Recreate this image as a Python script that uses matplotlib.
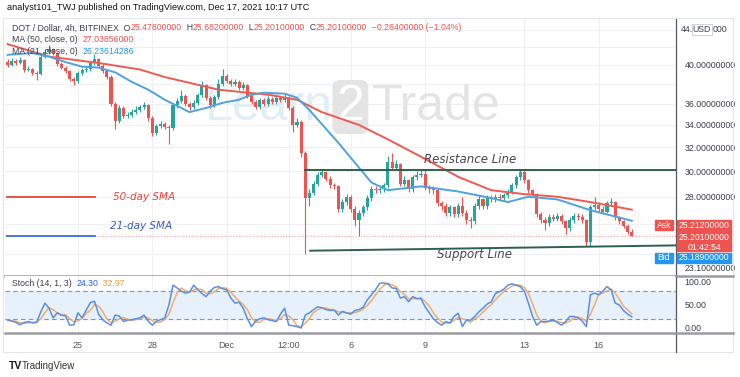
import numpy as np
import pandas as pd
import matplotlib
matplotlib.use("Agg")
import matplotlib.pyplot as plt
from matplotlib.lines import Line2D
from matplotlib.patches import Rectangle
from matplotlib.offsetbox import TextArea, HPacker, AnnotationBbox

# --------- Datos (velas de 4h, DOT/USD Bitfinex, 22 nov 04:00 -> 17 dic 08:00) ---------

first_open = 40.3
closes = [40.0, 40.4, 40.2, 40.5, 39.4, 39.6, 39.1, 39.0, 40.9, 41.4,
          41.8, 41.3, 40.1, 39.7, 39.3, 38.5, 38.3, 39.1, 39.4, 39.5,
          40.2, 40.6, 39.9, 39.3, 38.7, 36.0, 34.4, 35.6, 34.8, 34.9,
          35.2, 35.4, 35.7, 35.9, 34.6, 33.3, 33.9, 34.1, 33.8, 33.7,
          35.9, 36.3, 36.8, 36.0, 35.7, 36.1, 36.9, 37.9, 36.6, 35.9,
          36.7, 38.0, 38.8, 38.3, 38.0, 38.2, 37.6, 37.9, 36.8, 36.2,
          35.7, 36.4, 36.0, 36.5, 36.2, 36.6, 36.4, 36.7, 35.6, 34.0,
          34.3, 31.5, 27.9, 28.3, 29.0, 29.7, 29.9, 29.4, 28.9, 28.8,
          27.1, 27.6, 28.0, 27.1, 26.3, 26.8, 27.2, 27.9, 28.6, 28.5,
          28.6, 28.9, 30.8, 30.3, 30.6, 29.0, 29.3, 28.6, 29.5, 29.7,
          29.8, 28.7, 28.6, 28.5, 27.5, 27.3, 26.8, 27.2, 26.7, 27.3,
          26.8, 26.3, 26.2, 27.3, 27.8, 27.3, 27.9, 27.8, 28.0, 27.9,
          28.1, 28.4, 28.9, 29.5, 29.9, 29.3, 28.5, 28.2, 26.7, 26.3,
          26.1, 26.5, 26.4, 26.6, 26.2, 25.7, 26.3, 26.6, 26.5, 26.3,
          24.8, 27.2, 27.4, 27.1, 26.9, 27.5, 27.6, 26.5, 26.2, 25.9,
          25.478, 25.201]
highs = [40.6, 40.7, 40.6, 40.9, 40.6, 39.9, 39.7, 39.3, 41.1, 41.7,
         42.2, 41.9, 41.4, 40.3, 39.9, 39.4, 38.7, 39.3, 39.7, 39.8,
         40.4, 41.2, 40.8, 40.1, 39.5, 38.9, 36.2, 35.9, 35.8, 35.2,
         35.5, 35.8, 35.9, 36.2, 36.0, 34.8, 34.1, 34.4, 34.3, 34.0,
         36.1, 36.6, 37.4, 37.0, 36.2, 36.4, 37.1, 38.3, 38.0, 36.8,
         36.9, 38.5, 39.6, 39.0, 38.5, 38.5, 38.4, 38.2, 38.0, 37.0,
         36.4, 36.6, 36.6, 36.8, 36.7, 36.9, 36.8, 37.0, 36.8, 35.8,
         34.6, 34.5, 31.7, 28.6, 29.2, 29.9, 30.2, 30.0, 29.6, 29.1,
         28.9, 27.8, 28.2, 28.1, 27.3, 27.0, 27.4, 28.1, 28.8, 28.8,
         28.9, 29.1, 31.3, 31.5, 30.9, 30.7, 29.6, 29.4, 29.7, 30.0,
         30.2, 30.1, 28.9, 28.8, 28.6, 27.7, 27.5, 27.4, 27.3, 27.5,
         28.0, 27.0, 26.5, 27.5, 28.1, 27.9, 28.1, 28.1, 28.2, 28.2,
         28.3, 28.6, 29.1, 29.7, 30.2, 30.1, 29.4, 28.6, 28.3, 26.9,
         26.5, 26.7, 26.7, 26.8, 26.7, 26.3, 26.5, 26.8, 26.8, 26.7,
         26.4, 27.4, 28.0, 27.6, 27.3, 27.7, 27.9, 27.7, 26.6, 26.3,
         26.0, 25.682]
lows = [39.8, 39.9, 40.0, 40.1, 39.2, 39.3, 38.9, 38.4, 38.9, 40.7,
        41.2, 41.1, 39.9, 39.5, 39.1, 38.3, 37.9, 38.1, 38.9, 39.2,
        39.3, 40.0, 39.7, 39.1, 38.5, 35.8, 33.6, 34.2, 34.6, 34.6,
        34.7, 35.0, 35.2, 35.5, 34.4, 33.0, 33.1, 33.7, 33.6, 32.3,
        33.5, 35.6, 36.1, 35.8, 35.4, 35.5, 35.9, 36.7, 36.4, 35.6,
        35.7, 36.5, 37.8, 38.1, 37.8, 37.8, 37.4, 37.4, 36.6, 36.0,
        35.5, 35.5, 35.8, 35.8, 36.0, 36.0, 36.2, 36.2, 35.4, 33.4,
        33.8, 31.2, 24.0, 27.3, 28.1, 28.8, 29.5, 29.2, 28.7, 28.6,
        26.9, 26.9, 27.4, 26.9, 25.9, 25.2, 26.6, 27.0, 27.7, 28.3,
        28.3, 28.4, 28.7, 30.1, 30.1, 28.8, 28.8, 28.4, 28.4, 29.3,
        29.5, 28.5, 28.3, 28.2, 27.3, 27.0, 26.6, 26.6, 26.5, 26.5,
        26.6, 26.0, 25.7, 26.0, 27.1, 27.1, 27.1, 27.6, 27.6, 27.7,
        27.7, 27.9, 28.2, 28.7, 29.3, 29.1, 28.3, 28.0, 26.5, 26.1,
        25.6, 25.9, 26.2, 26.2, 26.0, 25.3, 25.5, 26.1, 26.3, 26.1,
        24.5, 24.5, 27.0, 26.9, 26.7, 26.8, 27.3, 26.3, 26.0, 25.7,
        25.3, 25.201]

# medias móviles (índice de vela, valor)
ma50_idx = [0, 10, 22, 32, 38, 46, 51, 58, 63, 70, 76, 85, 92, 100, 109, 117, 125, 133, 141, 151]
ma50_val = [42.3, 40.9, 40.2, 39.5, 38.7, 37.9, 37.4, 37.1, 36.9, 36.4, 35.2, 34.0, 32.7, 31.2,
            29.55, 28.5, 28.2, 28.0, 27.6, 27.04]
ma21_idx = [0, 6, 10, 14, 18, 22, 26, 30, 34, 38, 42, 44, 48, 52, 56, 59, 62, 67, 70, 73,
            80, 88, 92, 100, 109, 117, 121, 126, 133, 141, 151]
ma21_val = [41.1, 41.3, 40.9, 40.3, 39.8, 39.7, 39.2, 38.2, 37.4, 36.4, 35.6, 35.2, 35.6, 36.1,
            36.4, 36.9, 37.1, 37.0, 36.6, 35.4, 32.4, 29.1, 28.5, 28.8, 28.4, 27.9, 27.6, 28.0,
            27.8, 27.0, 26.24]

# estocástico %K (14, 1, 3)
stoch_k = [17, 15, 12, 7, 12, 14, 11, 12, 35, 54,
           43, 22, 33, 28, 26, 6, 7, 33, 22, 39,
           55, 58, 30, 18, 11, 6, 28, 26, 14, 17,
           18, 20, 22, 28, 15, 6, 15, 18, 22, 50,
           93, 87, 80, 76, 78, 93, 83, 75, 68, 80,
           88, 90, 85, 83, 65, 54, 56, 43, 20, 3,
           15, 20, 22, 18, 16, 14, 30, 43, 6, 5,
           3, 0, 28, 33, 40, 46, 44, 40, 38, 39,
           28, 36, 33, 30, 38, 40, 45, 61, 72, 83,
           97, 98, 96, 87, 86, 65, 68, 57, 68, 64,
           64, 46, 33, 20, 12, 6, 14, 11, 25, 32,
           3, 17, 17, 25, 35, 43, 52, 57, 75, 79,
           84, 93, 96, 93, 90, 80, 54, 25, 6, 14,
           14, 15, 17, 12, 6, 14, 25, 25, 22, 15,
           3, 72, 76, 72, 80, 90, 83, 54, 50, 38,
           30, 24.3]

x_tick_pos = [17, 35, 53, 68, 83, 101, 125, 143]
x_tick_labels = ["25", "28", "Dec", "12:00", "6", "9", "13", "16"]
price_ticks = [23.1, 28, 30, 32, 34, 36, 40]
grid_prices = [24, 26, 28, 30, 32, 34, 36, 38, 40, 42, 44]
top_price = 44

resistance_level = 30.1
resistance_start = 72
support_levels = [24.2, 24.55]
support_span = [73.2, 161.7]
last_price = 25.201

# --------- Estilo ---------
W, H = 740, 377
GREEN = "#26a69a"
RED = "#ef5350"
MA50_C = "#ef5a52"
MA21_C = "#4ea3df"
LEVEL_C = "#2f5f50"
GRID = "#eef0f4"
TXT = "#3c3f48"
FONT = "Liberation Sans"
XMIN, XMAX = -0.65, 161.7


def px(x, y):
    return x / W, 1 - y / H


def color_line(fig, parts, x, y, size):
    boxes = [TextArea(t, textprops=dict(color=c, fontsize=size, family=FONT)) for t, c in parts]
    pack = HPacker(children=boxes, align="baseline", pad=0, sep=0)
    ab = AnnotationBbox(pack, px(x, y), xycoords="figure fraction", box_alignment=(0, 0.5),
                        frameon=False, pad=0)
    fig.add_artist(ab)


fig = plt.figure(figsize=(W / 100, H / 100), dpi=100)
fig.patch.set_facecolor("white")

ax = fig.add_axes([5 / W, 1 - 276 / H, 671 / W, 258 / H])
sx = fig.add_axes([5 / W, 1 - 333 / H, 671 / W, 57 / H], sharex=ax)

# --------- Panel de precio ---------
closes = np.array(closes)
opens = np.r_[first_open, closes[:-1]]
idx = np.arange(len(closes))
cols = np.where(closes >= opens, GREEN, RED)

ax.set_yscale("log")
ax.set_ylim(22.6, 45.4)
ax.set_xlim(XMIN, XMAX)
ax.minorticks_off()

for p in grid_prices:
    ax.axhline(p, color=GRID, lw=0.8, zorder=0)
for t in x_tick_pos:
    ax.axvline(t, color=GRID, lw=0.8, zorder=0)
    sx.axvline(t, color=GRID, lw=0.8, zorder=0)

# marca de agua
ax.text(0.488, 0.655, "Learn", transform=ax.transAxes, ha="right", va="center",
        fontsize=36, family=FONT, color="#e0eef8", zorder=1)
ax.text(0.494, 0.655, "2", transform=ax.transAxes, ha="left", va="center",
        fontsize=36, family=FONT, color="white", zorder=1,
        bbox=dict(boxstyle="round,pad=0.08,rounding_size=0.15", fc="#e4e4e4", ec="none"))
ax.text(0.547, 0.655, "Trade", transform=ax.transAxes, ha="left", va="center",
        fontsize=36, family=FONT, color="#e4e4e4", zorder=1)

ax.vlines(idx, lows, highs, colors=cols, lw=0.8, zorder=3)
ax.bar(idx, np.maximum(np.abs(closes - opens), 0.04), bottom=np.minimum(opens, closes),
       width=0.74, color=cols, zorder=4)

ax.plot(ma50_idx, ma50_val, color=MA50_C, lw=1.4, zorder=5)
ax.plot(ma21_idx, ma21_val, color=MA21_C, lw=1.4, zorder=5)

ax.axhline(last_price, color="#f4a3a1", lw=0.8, ls=(0, (1, 1.5)), zorder=2)
ax.plot([resistance_start, XMAX], [resistance_level] * 2, color=LEVEL_C, lw=1.4, zorder=6)
ax.plot(support_span, support_levels, color=LEVEL_C, lw=1.4, zorder=6)
ax.text(111.9, 31.0, "Resistance Line", ha="center", va="center", fontsize=8.5,
        style="italic", color="#45474d", zorder=7)
ax.text(113.0, 23.95, "Support Line", ha="center", va="center", fontsize=8.5,
        style="italic", color="#45474d", zorder=7)

# leyenda manual de SMA
ax.plot([-0.2, 21.1], [28.0, 28.0], color="#e8423f", lw=1.3, zorder=6)
ax.plot([-0.2, 21.1], [25.2, 25.2], color="#3a6fd8", lw=1.3, zorder=6)
ax.text(25.5, 27.95, "50-day SMA", va="center", fontsize=7.5, style="italic", color="#e8423f")
ax.text(24.8, 25.9, "21-day SMA", va="center", fontsize=7.5, style="italic", color="#3b5bc4")

ax.yaxis.tick_right()
ax.set_yticks(price_ticks)
ax.set_yticklabels([f"{v:.8f}" for v in price_ticks])
ax.tick_params(axis="y", length=0, pad=6, labelsize=6.3, labelcolor=TXT)
for lab in ax.get_yticklabels():
    lab.set_family(FONT)
ax.tick_params(axis="x", bottom=False, labelbottom=False)
for s in ["top", "left"]:
    ax.spines[s].set_visible(False)
ax.spines["bottom"].set_color("#9a9ca3")
ax.spines["bottom"].set_linewidth(1.8)
ax.spines["right"].set_color("#55575e")
ax.spines["right"].set_linewidth(0.9)

# etiqueta superior: "44." + caja USD + "000"
ytrans = ax.get_yaxis_transform()
ax.text(1.0 + 5 / 671, top_price, f"{top_price}.", transform=ytrans, fontsize=6.3,
        family=FONT, color=TXT, ha="left", va="center", clip_on=False)
ax.text(1.0 + 37 / 671, top_price, "000", transform=ytrans, fontsize=6.3,
        family=FONT, color=TXT, ha="left", va="center", clip_on=False)
ax.text(1.0 + 26 / 671, top_price, "USD", transform=ytrans, fontsize=6.3, family=FONT,
        color=TXT, ha="center", va="center", clip_on=False,
        bbox=dict(boxstyle="square,pad=0.12", fc="white", ec="#c9ccd3", lw=0.6))

# --------- Panel estocástico ---------
k = pd.Series(stoch_k, dtype=float)
d = k.rolling(3, min_periods=1).mean()
sx.set_ylim(-10.9, 113.0)
sx.axhspan(20, 80, color="#e6f1fb", zorder=0)
sx.axhline(80, color="#8b93a3", lw=0.8, ls=(0, (4, 3)), zorder=1)
sx.axhline(20, color="#8b93a3", lw=0.8, ls=(0, (4, 3)), zorder=1)
sx.plot(idx, d, color="#f2ac6d", lw=1.1, zorder=3)
sx.plot(idx, k, color="#5a8fe6", lw=1.1, zorder=4)

sx.yaxis.tick_right()
sx.set_yticks([0, 50, 100])
sx.set_yticklabels(["0.00", "50.00", "100.00"])
sx.tick_params(axis="y", length=0, pad=6, labelsize=6.3, labelcolor=TXT)
sx.set_xticks(x_tick_pos)
sx.set_xticklabels(x_tick_labels)
sx.tick_params(axis="x", length=0, pad=6, labelsize=6.5, labelcolor="#555")
for lab in sx.get_yticklabels() + sx.get_xticklabels():
    lab.set_family(FONT)
for s in ["top", "left"]:
    sx.spines[s].set_visible(False)
sx.spines["bottom"].set_color("#9a9ca3")
sx.spines["bottom"].set_linewidth(1.8)
sx.spines["right"].set_color("#55575e")
sx.spines["right"].set_linewidth(0.9)

# --------- Marco y textos de cabecera ---------
fig.add_artist(Rectangle(px(3, 352), 730 / W, 334 / H, fill=False, edgecolor="#e3e5ea",
                         lw=0.8, transform=fig.transFigure))
fig.add_artist(Line2D([676 / W, 676 / W], [1 - 333 / H, 1 - 352 / H], color="#55575e",
                      lw=0.9, transform=fig.transFigure))
fig.add_artist(Line2D([676 / W, 733 / W], [1 - 276 / H, 1 - 276 / H], color="#9a9ca3",
                      lw=1.8, transform=fig.transFigure))
fig.add_artist(Line2D([676 / W, 733 / W], [1 - 333 / H, 1 - 333 / H], color="#9a9ca3",
                      lw=1.8, transform=fig.transFigure))

fig.text(*px(7, 8), "analyst101_TWJ published on TradingView.com, Dec 17, 2021 10:17 UTC",
         fontsize=6.6, family=FONT, color="#111", va="center")
color_line(fig, [("DOT / Dollar, 4h, BITFINEX  O", TXT), ("25.47800000", RED), ("  H", TXT),
                 ("25.68200000", RED), ("  L", TXT), ("25.20100000", RED), ("  C", TXT),
                 ("25.20100000", RED), ("  \u22120.26400000 (\u22121.04%)", RED)], 12, 28, 6.3)
color_line(fig, [("MA (50, close, 0)  ", TXT), ("27.03856000", RED)], 12, 40, 6.3)
color_line(fig, [("MA (21, close, 0)  ", TXT), ("26.23614286", "#2196f3")], 12, 52, 6.3)
color_line(fig, [("Stoch (14, 1, 3)  ", TXT), ("24.30", "#2962ff"), ("  32.97", "#f59a3c")],
           12, 283, 6.3)

# cajas Ask / Bid
fig.add_artist(Rectangle(px(677, 251), 54 / W, 31 / H, color=RED, transform=fig.transFigure))
fig.add_artist(Rectangle(px(655, 230), 18 / W, 10 / H, color=RED, transform=fig.transFigure))
fig.add_artist(Rectangle(px(677, 263), 54 / W, 10 / H, color="#2196f3", transform=fig.transFigure))
fig.add_artist(Rectangle(px(655, 263), 18 / W, 10 / H, color="#2196f3", transform=fig.transFigure))
for (x, y, s) in [(664, 225, "Ask"), (704, 225, "25.21200000"), (704, 237, "25.20100000"),
                  (704, 247, "01:42:54"), (664, 258, "Bid"), (704, 258, "25.18900000")]:
    fig.text(*px(x, y), s, fontsize=6.2, family=FONT, color="white", ha="center", va="center")

# pie TradingView
fig.text(*px(9, 366), "TV", fontsize=7.5, family=FONT, weight="bold", color="#131722", va="center")
fig.text(*px(22, 366), "TradingView", fontsize=7, family=FONT, color="#333", va="center")

fig.savefig("out.png", dpi=100)
